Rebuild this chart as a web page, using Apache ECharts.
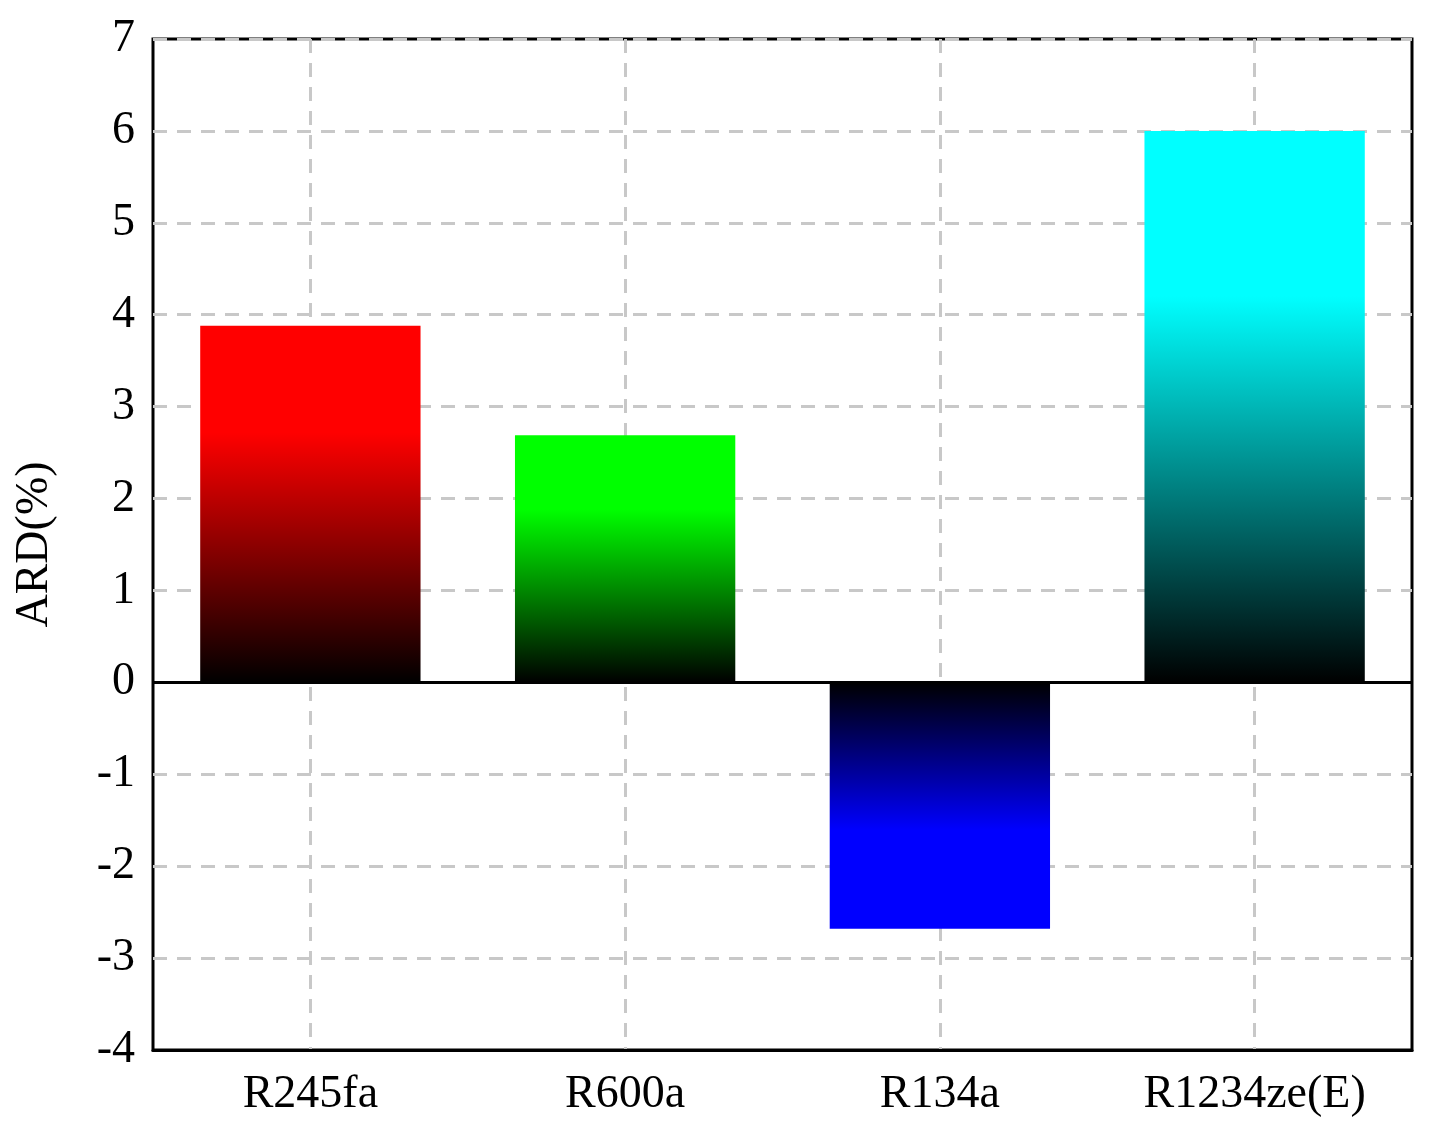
<!DOCTYPE html>
<html>
<head>
<meta charset="utf-8">
<script src="https://cdn.jsdelivr.net/npm/echarts@6/dist/echarts.min.js"></script>
<style>html,body{margin:0;padding:0;background:#fff}#chart{width:1435px;height:1146px}</style>
</head>
<body>
<div id="chart"></div>
<script>
var categories = ['R245fa', 'R600a', 'R134a', 'R1234ze(E)'];
var values = [3.88, 2.69, -2.68, 6.0];
var barColors = ['#ff0000', '#00ff00', '#0000ff', '#00ffff'];

var font = 'Liberation Serif';

function gradientFor(v, c) {
    if (v >= 0) {
        return new echarts.graphic.LinearGradient(0, 0, 0, 1, [
            {offset: 0, color: c}, {offset: 0.3, color: c}, {offset: 1, color: '#000'}
        ]);
    }
    return new echarts.graphic.LinearGradient(0, 0, 0, 1, [
        {offset: 0, color: '#000'}, {offset: 0.6, color: c}, {offset: 1, color: c}
    ]);
}

var barData = values.map(function (v, i) {
    return {value: v, itemStyle: {color: gradientFor(v, barColors[i])}};
});

var chart = echarts.init(document.getElementById('chart'));
chart.setOption({
    animation: false,
    grid: {left: 153, right: 23, top: 39, bottom: 96, show: true,
        borderColor: '#000', borderWidth: 3, backgroundColor: 'transparent'},
    xAxis: [{
        type: 'category',
        data: categories,
        axisLine: {onZero: false, lineStyle: {color: '#000', width: 3}},
        axisTick: {alignWithLabel: true, inside: true, length: 20, lineStyle: {color: '#000', width: 3}},
        axisLabel: {color: '#000', fontFamily: font, fontSize: 46, margin: 22},
        splitLine: {show: false}
    }, {
        type: 'category',
        data: ['0', '1', '2', '3', '4', '5', '6', '7', '8'],
        boundaryGap: false,
        position: 'top',
        axisLine: {show: false},
        axisTick: {show: false},
        axisLabel: {show: false},
        splitLine: {show: true, interval: function (i) { return i % 2 === 1; },
            lineStyle: {color: '#c8c8c8', width: 3, type: [14, 10]}}
    }],
    yAxis: {
        type: 'value',
        min: -4, max: 7, interval: 1,
        name: 'ARD(%)',
        nameLocation: 'middle',
        nameGap: 95,
        nameTextStyle: {color: '#000', fontFamily: font, fontSize: 46},
        axisLine: {lineStyle: {color: '#000', width: 3}},
        axisTick: {inside: true, length: 10, lineStyle: {color: '#000', width: 3}},
        axisLabel: {color: '#000', fontFamily: font, fontSize: 46, margin: 18},
        splitLine: {show: true, lineStyle: {color: '#c8c8c8', width: 3, type: [14, 10]}}
    },
    series: [{
        type: 'bar',
        data: barData,
        barWidth: '70%',
        markLine: {
            silent: true,
            symbol: 'none',
            label: {show: false},
            lineStyle: {color: '#000', width: 3, type: 'solid'},
            data: [{yAxis: 0}]
        }
    }]
});
</script>
</body>
</html>
